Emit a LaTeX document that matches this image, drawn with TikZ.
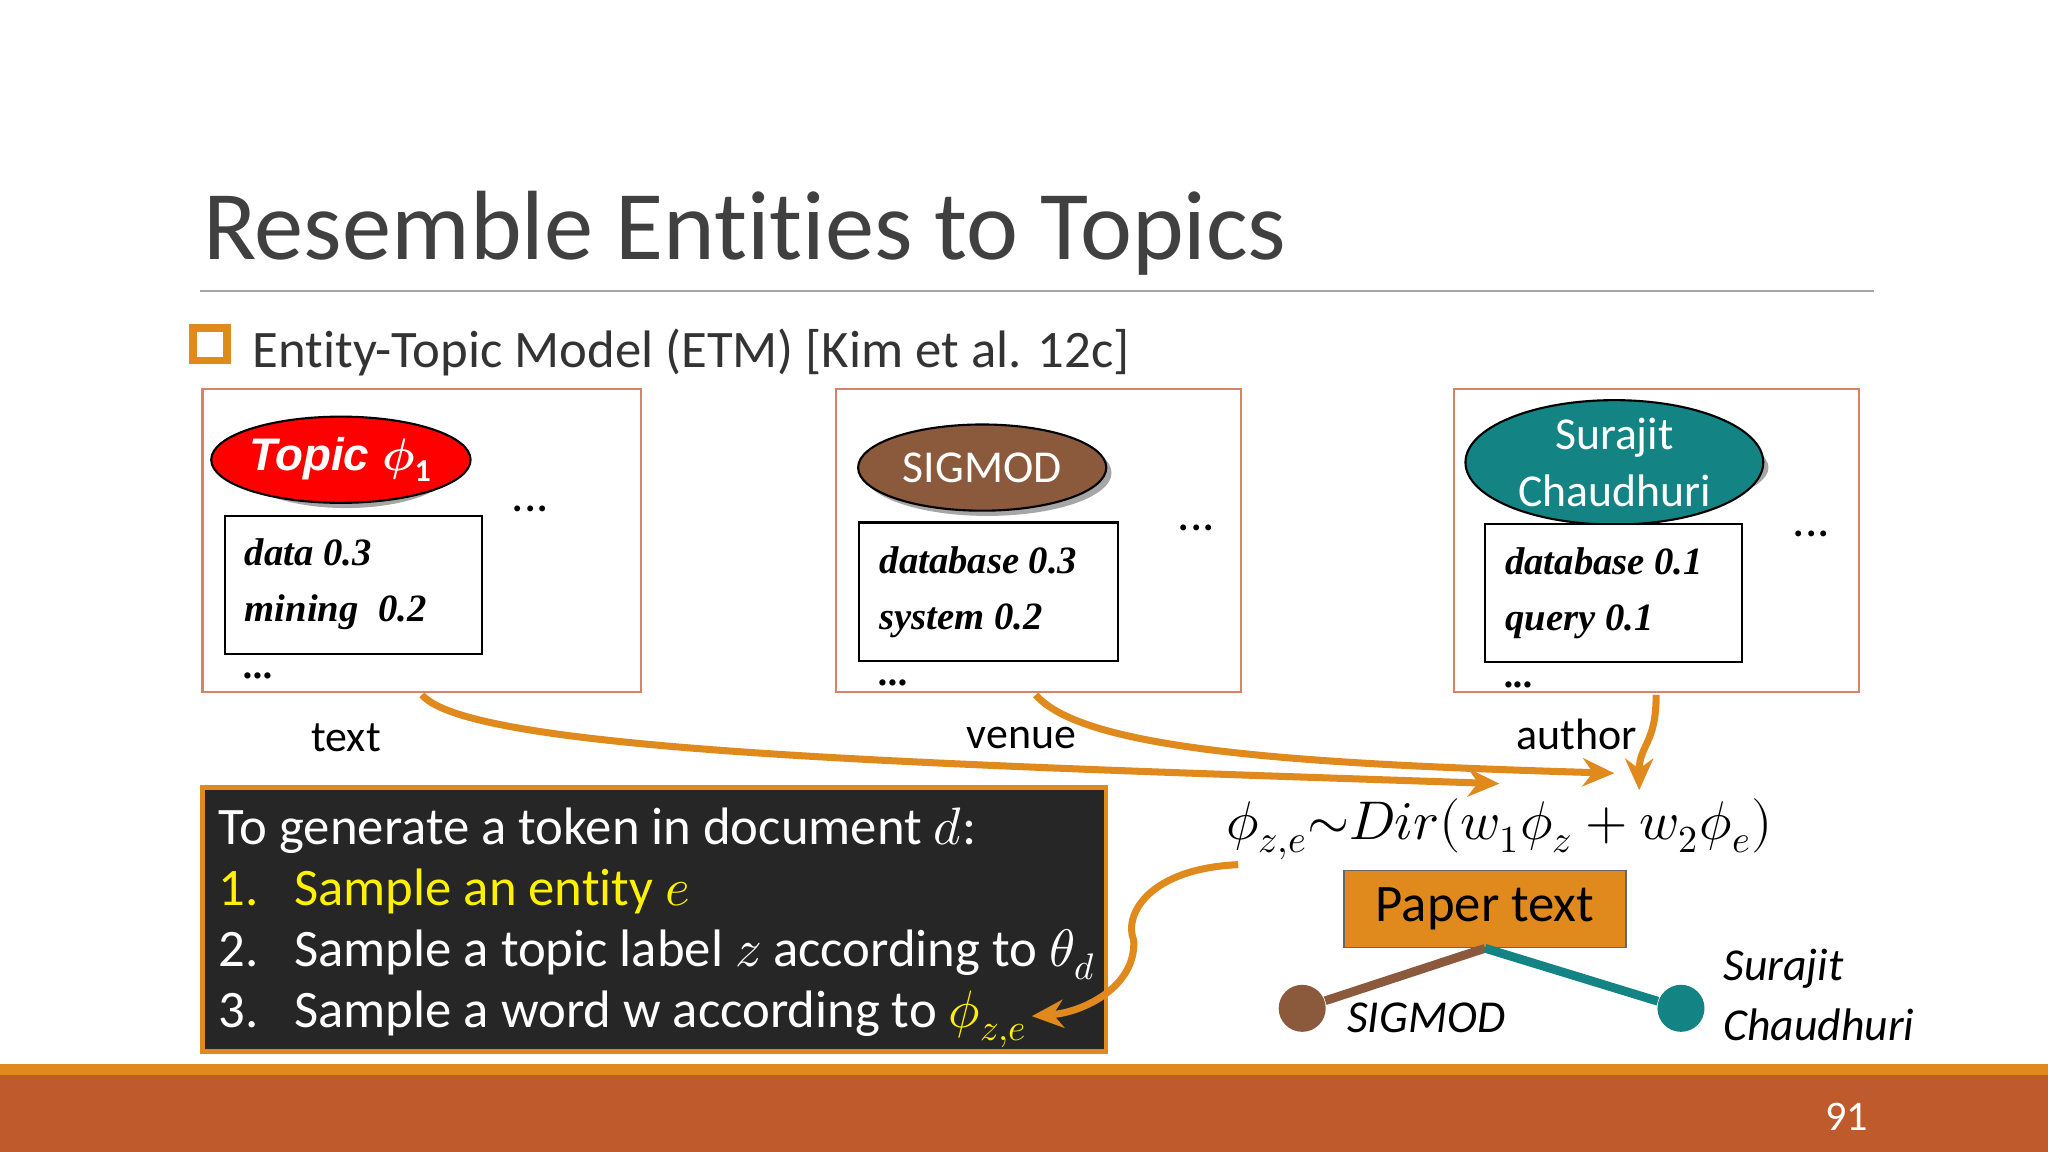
\documentclass[tikz,border=0pt]{standalone}
\usepackage{fontspec}
\setmainfont{Carlito}[Ligatures=NoCommon]
\usepackage{unicode-math}
\setmathfont{Latin Modern Math}
\usetikzlibrary{shapes.geometric,arrows.meta}
\definecolor{org}{HTML}{E08A1E}
\definecolor{rust}{HTML}{BE5A2C}
\definecolor{frm}{HTML}{D9826A}
\definecolor{brn}{HTML}{8B5A3C}
\definecolor{tl}{HTML}{138383}
\newcommand{\numbx}[1]{\makebox[21.5pt][l]{#1}}
\tikzset{
 frame/.style={draw=frm,line width=0.6pt},
 wbox/.style={draw=black,line width=0.6pt,fill=white},
 ell/.style={ellipse,draw=black,line width=0.6pt,text=white,inner sep=0pt},
 shad/.style={ellipse,fill=black!35,inner sep=0pt},
 ser/.style={font=\fontspec{Liberation Serif}\bfseries\itshape\fontsize{11}{12}\selectfont,align=left,anchor=north west},
 arr/.style={draw=org,line width=2pt,-{Stealth[length=9pt,width=8pt]}},
 lab/.style={font=\fontsize{12.5}{14}\selectfont},
}
\begin{document}
\begin{tikzpicture}[x=0.013061cm,y=-0.013061cm]
\useasboundingbox (0,0) rectangle (1568,882);
\fill[white] (0,0) rectangle (1568,882);
\node[anchor=base west,inner sep=0,font=\fontsize{28}{32}\selectfont,text=black!75] (title) at (155,199) {Resemble Entities to Topics};
\draw[black!35,line width=0.6pt] (153,223) -- (1435,223);
\draw[org,line width=2.2pt] (148,251) rectangle (174,276);
\node[anchor=base west,inner sep=0,font=\fontsize{15}{18}\selectfont,text=black!80] (sub) at (193,281) {Entity-Topic Model (ETM) [Kim et al. 12c]};
% frames
\draw[frame] (155,298) rectangle (491,530);
\draw[frame] (640,298) rectangle (950,530);
\draw[frame] (1113,298) rectangle (1423,530);
% box 1
\node[shad,minimum width=168*0.013061cm,minimum height=66*0.013061cm] at (265,356) {};
\node[ell,fill=red,minimum width=168*0.013061cm,minimum height=66*0.013061cm,font=\fontspec{Liberation Sans}\bfseries\itshape\fontsize{13}{15}\selectfont] (t1) at (261,352) {Topic $\symbfit{\phi}_{\mathbf{1}}$};
\draw[wbox] (172,395) rectangle (369,501);
\node[ser] (w1) at (178,403) {data 0.3\\[4pt]mining\ \ 0.2\\[4pt]...};
\node[font=\fontsize{14}{14}\selectfont] (d1) at (406,390) {...};
% box 2
\node[shad,minimum width=190*0.013061cm,minimum height=66*0.013061cm] at (756,362) {};
\node[ell,fill=brn,minimum width=190*0.013061cm,minimum height=66*0.013061cm,font=\fontsize{13}{15}\selectfont] (t2) at (752,358) {SIGMOD};
\draw[wbox] (658,400) rectangle (856,506);
\node[ser] (w2) at (664,409) {database 0.3\\[4pt]system 0.2\\[4pt]...};
\node[font=\fontsize{14}{14}\selectfont] (d2) at (916,404) {...};
% box 3
\node[shad,minimum width=228*0.013061cm,minimum height=66*0.013061cm] at (1240,358) {};
\node[ell,fill=tl,minimum width=228*0.013061cm,minimum height=66*0.013061cm,font=\fontsize{13}{16}\selectfont,align=center] (t3) at (1236,354) {Surajit\\Chaudhuri};
\draw[wbox] (1137,401) rectangle (1334,507);
\node[ser] (w3) at (1143,410) {database 0.1\\[4pt]query 0.1\\[4pt]...};
\node[font=\fontsize{14}{14}\selectfont] (d3) at (1387,409) {...};
% labels
\node[lab] (l1) at (265,565) {text};
\node[lab] (l2) at (782,565) {venue};
\node[lab] (l3) at (1207,562) {author};
% formula
\node[font=\fontsize{15.5}{18}\selectfont] (f) at (1148,635) {$\phi_{z,e}{\sim}Dir(w_1\phi_z+w_2\phi_e)$};
\coordinate (s1) at (323,532); \coordinate (e1) at (1148,600);
\coordinate (s2) at (793,532); \coordinate (e2) at (1236,592);
\coordinate (s3) at (1268,532); \coordinate (e3) at (1255,605);
\draw[arr] (s1) .. controls (360,575) and (700,585) .. (e1);
\draw[arr] (s2) .. controls (830,575) and (1000,585) .. (e2);
\draw[arr] (s3) .. controls (1268,570) and (1255,570) .. (e3);
% black box
\draw[draw=org,line width=1.2pt,fill=black!85] (155,603) rectangle (847,805);
\node[anchor=north west,align=left,text=white,font=\fontsize{15}{17.4}\selectfont,inner sep=0] (gen) at (167,618) {To generate a token in document $d$:\\
\textcolor{yellow}{\numbx{1.}Sample an entity $e$}\\
\numbx{2.}Sample a topic label $z$ according to $\theta_d$\\
\numbx{3.}Sample a word w according to \textcolor{yellow}{$\phi_{z,e}$}};
\coordinate (s4) at (948,662); \coordinate (e4) at (790,778);
\draw[arr] (s4) .. controls (880,665) and (860,700) .. (868,720) .. controls (870,755) and (830,775) .. (e4);
% paper text
\node[draw=black!60,fill=org,minimum width=216*0.013061cm,minimum height=59*0.013061cm,font=\fontsize{15}{18}\selectfont] (pt) at (1137,696) {Paper text};
\node[circle,fill=brn,minimum size=36*0.013061cm,inner sep=0] (c1) at (997,772) {};
\node[circle,fill=tl,minimum size=36*0.013061cm,inner sep=0] (c2) at (1287,772) {};
\draw[brn,line width=2.5pt] (pt.south) -- (c1);
\draw[tl,line width=2.5pt] (pt.south) -- (c2);
\node[font=\itshape\fontsize{13}{15}\selectfont,anchor=west] (n1) at (1022,779) {SIGMOD};
\node[font=\itshape\fontsize{13}{17}\selectfont,anchor=west,align=left] (n2) at (1310,762) {Surajit\\Chaudhuri};
% footer
\fill[org] (0,815) rectangle (1568,823);
\fill[rust] (0,823) rectangle (1568,882);
\node[text=white,font=\fontsize{12}{14}\selectfont] (pg) at (1414,855) {91};
\end{tikzpicture}
\end{document}
